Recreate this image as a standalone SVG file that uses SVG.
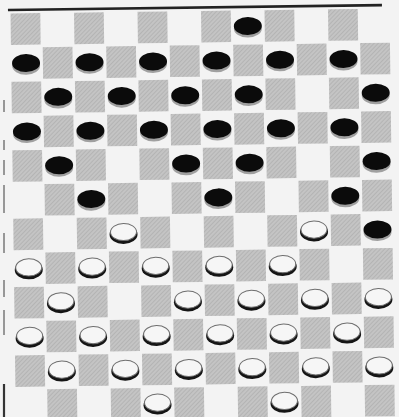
<svg xmlns="http://www.w3.org/2000/svg" xmlns:xlink="http://www.w3.org/1999/xlink" width="399" height="417" viewBox="0 0 399 417">
  <style>
    .sq { fill: url(#hatch); }
    .edge { stroke: #7a7a7a; stroke-width: 1.5; fill: none; }
  </style>
  <defs>
    <pattern id="hatch" patternUnits="userSpaceOnUse" width="3" height="3" patternTransform="rotate(45)">
      <rect width="3" height="3" fill="#c4c4c4"/>
      <line x1="0" y1="0" x2="0" y2="3" stroke="#a9a9a9" stroke-width="1.2"/>
    </pattern>
    <g id="rowOdd">
      <rect class="sq" x="10.5" y="0" width="29.75" height="31.5"/>
      <rect class="sq" x="74" y="0" width="29.75" height="31.5"/>
      <rect class="sq" x="137.5" y="0" width="29.75" height="31.5"/>
      <rect class="sq" x="201" y="0" width="29.75" height="31.5"/>
      <rect class="sq" x="264.5" y="0" width="29.75" height="31.5"/>
      <rect class="sq" x="328" y="0" width="29.75" height="31.5"/>
    </g>
    <g id="rowEven">
      <rect class="sq" x="42.25" y="0" width="29.75" height="31.5"/>
      <rect class="sq" x="105.75" y="0" width="29.75" height="31.5"/>
      <rect class="sq" x="169.25" y="0" width="29.75" height="31.5"/>
      <rect class="sq" x="232.75" y="0" width="29.75" height="31.5"/>
      <rect class="sq" x="296.25" y="0" width="29.75" height="31.5"/>
      <rect class="sq" x="359.75" y="0" width="29.75" height="31.5"/>
    </g>
    <g id="bp">
      <ellipse cx="0" cy="2.6" rx="14" ry="9" fill="#a0a0a0"/>
      <ellipse cx="0" cy="0" rx="14" ry="9" fill="#0b0b0b"/>
    </g>
    <g id="wp">
      <ellipse cx="0" cy="1.6" rx="14" ry="9.5" fill="#151515"/>
      <ellipse cx="0" cy="-0.8" rx="13" ry="8.6" fill="#f6f6f6" stroke="#6e6e6e" stroke-width="1"/>
    </g>
  </defs>

  <rect width="399" height="417" fill="#f3f3f3"/>

  <g id="left-edge">
    <path class="edge" d="M4 100V112M4 140V150M4 160V175M4 185V213M4 233V253M4 280V297M4 310V335"/>
    <path d="M4 384V417" stroke="#333" stroke-width="2.2" fill="none"/>
  </g>

  <g id="board" transform="rotate(-0.75 9 12)">
    <line id="top-rule" x1="8" y1="10" x2="382" y2="10" stroke="#222" stroke-width="2.6"/>
    <g id="squares">
      <use xlink:href="#rowOdd" y="13.5"/>
      <use xlink:href="#rowEven" y="47.7"/>
      <use xlink:href="#rowOdd" y="81.9"/>
      <use xlink:href="#rowEven" y="116.1"/>
      <use xlink:href="#rowOdd" y="150.3"/>
      <use xlink:href="#rowEven" y="184.5"/>
      <use xlink:href="#rowOdd" y="218.7"/>
      <use xlink:href="#rowEven" y="252.9"/>
      <use xlink:href="#rowOdd" y="287.1"/>
      <use xlink:href="#rowEven" y="321.3"/>
      <use xlink:href="#rowOdd" y="355.5"/>
      <use xlink:href="#rowEven" y="389.7"/>
    </g>
    <g id="black-pieces">
      <use xlink:href="#bp" x="247.625" y="29.1"/>
      <use xlink:href="#bp" x="25.375" y="63.3"/>
      <use xlink:href="#bp" x="88.875" y="63.3"/>
      <use xlink:href="#bp" x="152.375" y="63.3"/>
      <use xlink:href="#bp" x="215.875" y="63.3"/>
      <use xlink:href="#bp" x="279.375" y="63.3"/>
      <use xlink:href="#bp" x="342.875" y="63.3"/>
      <use xlink:href="#bp" x="57.125" y="97.5"/>
      <use xlink:href="#bp" x="120.625" y="97.5"/>
      <use xlink:href="#bp" x="184.125" y="97.5"/>
      <use xlink:href="#bp" x="247.625" y="97.5"/>
      <use xlink:href="#bp" x="374.625" y="97.5"/>
      <use xlink:href="#bp" x="25.375" y="131.7"/>
      <use xlink:href="#bp" x="88.875" y="131.7"/>
      <use xlink:href="#bp" x="152.375" y="131.7"/>
      <use xlink:href="#bp" x="215.875" y="131.7"/>
      <use xlink:href="#bp" x="279.375" y="131.7"/>
      <use xlink:href="#bp" x="342.875" y="131.7"/>
      <use xlink:href="#bp" x="57.125" y="165.9"/>
      <use xlink:href="#bp" x="184.125" y="165.9"/>
      <use xlink:href="#bp" x="247.625" y="165.9"/>
      <use xlink:href="#bp" x="374.625" y="165.9"/>
      <use xlink:href="#bp" x="88.875" y="200.1"/>
      <use xlink:href="#bp" x="215.875" y="200.1"/>
      <use xlink:href="#bp" x="342.875" y="200.1"/>
      <use xlink:href="#bp" x="374.625" y="234.3"/>
    </g>
    <g id="white-pieces">
      <use xlink:href="#wp" x="120.625" y="234.3"/>
      <use xlink:href="#wp" x="311.125" y="234.3"/>
      <use xlink:href="#wp" x="25.375" y="268.5"/>
      <use xlink:href="#wp" x="88.875" y="268.5"/>
      <use xlink:href="#wp" x="152.375" y="268.5"/>
      <use xlink:href="#wp" x="215.875" y="268.5"/>
      <use xlink:href="#wp" x="279.375" y="268.5"/>
      <use xlink:href="#wp" x="57.125" y="302.7"/>
      <use xlink:href="#wp" x="184.125" y="302.7"/>
      <use xlink:href="#wp" x="247.625" y="302.7"/>
      <use xlink:href="#wp" x="311.125" y="302.7"/>
      <use xlink:href="#wp" x="374.625" y="302.7"/>
      <use xlink:href="#wp" x="25.375" y="336.9"/>
      <use xlink:href="#wp" x="88.875" y="336.9"/>
      <use xlink:href="#wp" x="152.375" y="336.9"/>
      <use xlink:href="#wp" x="215.875" y="336.9"/>
      <use xlink:href="#wp" x="279.375" y="336.9"/>
      <use xlink:href="#wp" x="342.875" y="336.9"/>
      <use xlink:href="#wp" x="57.125" y="371.1"/>
      <use xlink:href="#wp" x="120.625" y="371.1"/>
      <use xlink:href="#wp" x="184.125" y="371.1"/>
      <use xlink:href="#wp" x="247.625" y="371.1"/>
      <use xlink:href="#wp" x="311.125" y="371.1"/>
      <use xlink:href="#wp" x="374.625" y="371.1"/>
      <use xlink:href="#wp" x="152.375" y="405.3"/>
      <use xlink:href="#wp" x="279.375" y="405.3"/>
    </g>
  </g>
</svg>
